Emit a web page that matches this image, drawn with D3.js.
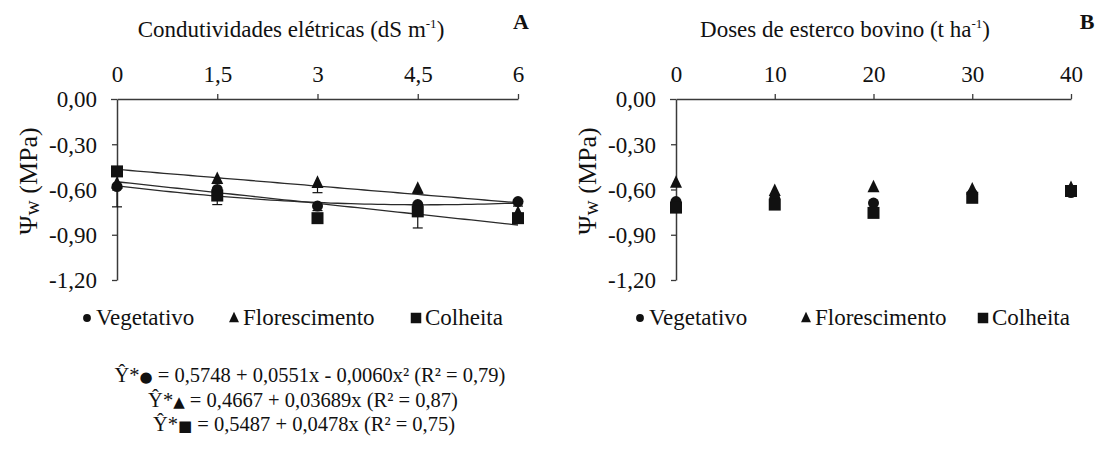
<!DOCTYPE html>
<html>
<head>
<meta charset="utf-8">
<script src="https://cdn.jsdelivr.net/npm/d3@7/dist/d3.min.js"></script>
<style>
  html, body { margin: 0; padding: 0; background: #fff; }
  svg { display: block; }
  svg text { font-family: "Liberation Serif", "Tinos", "Times New Roman", "DejaVu Serif", serif; }
</style>
</head>
<body>
<svg id="chart" width="1101" height="455"></svg>
<script>
// ---- data ----
const seriesNames = ["Vegetativo", "Florescimento", "Colheita"];
const shapes = ["circle", "triangle", "square"];

// Panel A: electrical conductivity of irrigation water (dS m-1)
const ceLevels = [0, 1.5, 3, 4.5, 6];
const ceTickLabels = ["0", "1,5", "3", "4,5", "6"];
const ceVegetativo = [-0.58, -0.60, -0.71, -0.70, -0.68];
const ceFlorescimento = [-0.56, -0.53, -0.556, -0.595, -0.755];
const ceColheita = [-0.48, -0.64, -0.79, -0.745, -0.79];
// lower error bar lengths
const ceErrVegetativo = [0.135, 0.03, 0.03, 0.03, 0.03];
const ceErrFlorescimento = [0.03, 0.03, 0.065, 0.03, 0.03];
const ceErrColheita = [0.03, 0.06, 0.03, 0.11, 0.03];

// Fitted models (Ŷ = -(a + b·x + c·x²))
const fitVegetativo = [0.5748, 0.0551, -0.0060];
const fitFlorescimento = [0.4667, 0.03689, 0];
const fitColheita = [0.5487, 0.0478, 0];

// Panel B: cattle manure doses (t ha-1)
const doseLevels = [0, 10, 20, 30, 40];
const doseTickLabels = ["0", "10", "20", "30", "40"];
const doseVegetativo = [-0.68, -0.66, -0.69, -0.63, -0.62];
const doseFlorescimento = [-0.555, -0.61, -0.585, -0.60, -0.59];
const doseColheita = [-0.72, -0.70, -0.755, -0.655, -0.61];

const yTicks = [0, -0.3, -0.6, -0.9, -1.2];
const yTickLabels = ["0,00", "-0,30", "-0,60", "-0,90", "-1,20"];

const equations = [
  { mark: "●", text: " = 0,5748 + 0,0551x - 0,0060x² (R² = 0,79)" },
  { mark: "▲", text: " = 0,4667 + 0,03689x (R² = 0,87)" },
  { mark: "■", text: " = 0,5487 + 0,0478x (R² = 0,75)" }
];

// ---- drawing ----
const svg = d3.select("#chart");
const ink = "#111";
const serif = '"Liberation Serif", "Tinos", "Times New Roman", "DejaVu Serif", serif';

function marker(g, shape, x, y, s) {
  if (shape === "circle") {
    g.append("circle").attr("cx", x).attr("cy", y).attr("r", s * 0.46).attr("fill", ink);
  } else if (shape === "triangle") {
    const h = s * 1.05, w = s * 1.0;
    g.append("path")
      .attr("d", `M${x},${y - h * 0.6}L${x + w / 2},${y + h * 0.4}L${x - w / 2},${y + h * 0.4}Z`)
      .attr("fill", ink);
  } else {
    g.append("rect").attr("x", x - s / 2).attr("y", y - s / 2)
      .attr("width", s).attr("height", s).attr("fill", ink);
  }
}

function panel(opts) {
  const x = d3.scaleLinear().domain(opts.xDomain).range(opts.xRange);
  const y = d3.scaleLinear().domain([0, -1.2]).range([99, 280]);
  const g = svg.append("g");

  // top x axis
  const xa = g.append("g").attr("transform", `translate(0,${y(0)})`)
    .call(d3.axisTop(x).tickValues(opts.xTicks)
      .tickFormat((d, i) => opts.xTickLabels[i]).tickSize(5).tickSizeOuter(0).tickPadding(12));
  // left y axis
  const ya = g.append("g").attr("transform", `translate(${x.range()[0]},0)`)
    .call(d3.axisLeft(y).tickValues(yTicks)
      .tickFormat((d, i) => yTickLabels[i]).tickSize(5).tickSizeOuter(0).tickPadding(15));
  [xa, ya].forEach(a => {
    a.attr("font-family", null).attr("font-size", null);
    a.select(".domain").attr("stroke", "#3a3a3a").attr("stroke-width", 1.5);
    a.selectAll(".tick line").attr("stroke", "#3a3a3a").attr("stroke-width", 1.3);
    a.selectAll("text").attr("font-size", 23).attr("fill", ink).style("font-family", serif);
  });
  ya.selectAll("text").attr("dy", "0.34em");
  xa.selectAll(".tick").filter(d => d === 0).select("line").remove();
  ya.selectAll(".tick").filter(d => d === 0).select("line").attr("x2", -6);

  // axis title on top
  const t = g.append("text").attr("x", opts.titleX).attr("y", 37)
    .attr("text-anchor", "middle").attr("font-size", 23).attr("fill", ink);
  t.append("tspan").text(opts.title);
  t.append("tspan").attr("font-size", 13).attr("dy", -9).text("-1");
  t.append("tspan").attr("dy", 9).text(")");

  g.append("text").attr("x", opts.letterX).attr("y", 29).attr("text-anchor", "middle")
    .attr("font-size", 22).attr("font-weight", "bold").attr("fill", ink).text(opts.letter);

  // y axis title
  const yt = g.append("text")
    .attr("transform", `translate(${opts.yTitleX},181) rotate(-90)`)
    .attr("text-anchor", "middle").attr("font-size", 26).attr("fill", ink);
  yt.append("tspan").text("Ψ");
  yt.append("tspan").attr("font-size", 21).attr("dy", 2).text("w");
  yt.append("tspan").attr("dy", -2).text(" (MPa)");

  // fitted curves
  if (opts.fits) {
    const line = d3.line().x(d => x(d[0])).y(d => y(d[1]));
    opts.fits.forEach(c => {
      const pts = d3.range(0, 61).map(i => {
        const xv = opts.xDomain[1] * i / 60;
        return [xv, -(c[0] + c[1] * xv + c[2] * xv * xv)];
      });
      g.append("path").attr("d", line(pts)).attr("fill", "none")
        .attr("stroke", "#2a2a2a").attr("stroke-width", 1.3);
    });
  }

  // lower error bars
  if (opts.errors) {
    opts.series.forEach((vals, si) => {
      vals.forEach((v, i) => {
        const e = opts.errors[si][i];
        const cx = x(opts.xTicks[i]);
        g.append("line").attr("x1", cx).attr("x2", cx)
          .attr("y1", y(v)).attr("y2", y(v - e)).attr("stroke", ink).attr("stroke-width", 1.2);
        g.append("line").attr("x1", cx - 5).attr("x2", cx + 5)
          .attr("y1", y(v - e)).attr("y2", y(v - e)).attr("stroke", ink).attr("stroke-width", 1.2);
      });
    });
  }

  // markers
  opts.series.forEach((vals, si) => {
    vals.forEach((v, i) => marker(g, shapes[si], x(opts.xTicks[i]), y(v), 12));
  });

  // legend
  const lg = g.append("g");
  opts.legendX.forEach((lx, i) => {
    marker(lg, shapes[i], lx, 318, i === 0 ? 8.5 : (i === 1 ? 10 : 10.5));
    lg.append("text").attr("x", lx + 9).attr("y", 325).attr("font-size", 23)
      .attr("fill", ink).text(seriesNames[i]);
  });
}

panel({
  xDomain: [0, 6], xRange: [117, 518], xTicks: ceLevels, xTickLabels: ceTickLabels,
  title: "Condutividades elétricas (dS m", titleX: 291, letter: "A", letterX: 521,
  yTitleX: 37,
  series: [ceVegetativo, ceFlorescimento, ceColheita],
  errors: [ceErrVegetativo, ceErrFlorescimento, ceErrColheita],
  fits: [fitVegetativo, fitFlorescimento, fitColheita],
  legendX: [87, 234, 416]
});

panel({
  xDomain: [0, 40], xRange: [676, 1071], xTicks: doseLevels, xTickLabels: doseTickLabels,
  title: "Doses de esterco bovino (t ha", titleX: 845, letter: "B", letterX: 1087,
  yTitleX: 596,
  series: [doseVegetativo, doseFlorescimento, doseColheita],
  legendX: [640, 806, 983]
});

// regression equations
const eqCenters = [310, 303, 304];
const eqBaselines = [382, 407, 431];
equations.forEach((eq, i) => {
  const t = svg.append("text").attr("x", eqCenters[i]).attr("y", eqBaselines[i])
    .attr("text-anchor", "middle").attr("font-size", 20.5).attr("fill", ink);
  t.append("tspan").text("Ŷ*");
  t.append("tspan").style("font-family", "DejaVu Sans, sans-serif").attr("font-size", 15).text(eq.mark);
  t.append("tspan").text(eq.text);
});
</script>
</body>
</html>
